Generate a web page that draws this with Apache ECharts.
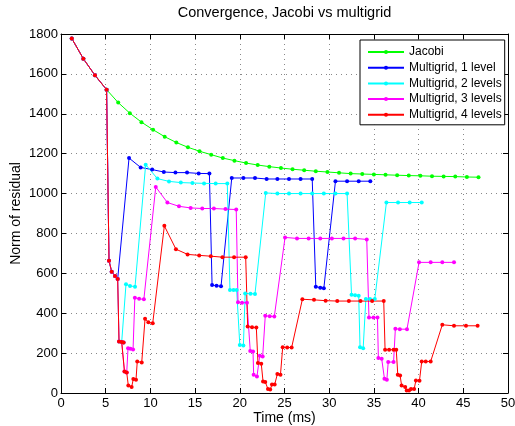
<!DOCTYPE html>
<html><head><meta charset="utf-8">
<script src="https://cdn.jsdelivr.net/npm/echarts@6/dist/echarts.min.js"></script>
<style>html,body{margin:0;padding:0;background:#fff}#c{width:515px;height:426px}</style>
</head><body><div id="c"></div>
<script>
// ---- data ----
const seriesNames = ['Jacobi', 'Multigrid, 1 level', 'Multigrid, 2 levels', 'Multigrid, 3 levels', 'Multigrid, 4 levels'];

const jacobiTime = [1.2, 2.5, 3.8, 5.1, 6.4, 7.7, 9.0, 10.3, 11.6, 12.9, 14.2, 15.5, 16.8, 18.1, 19.4, 20.7, 22.0, 23.3, 24.6, 25.9, 27.2, 28.5, 29.8, 31.1, 32.4, 33.7, 35.0, 36.3, 37.6, 38.9, 40.2, 41.5, 42.8, 44.1, 45.4, 46.7];
const jacobiRes = [1778, 1676, 1593, 1521, 1456, 1403, 1358, 1320, 1285, 1256, 1232, 1212, 1195, 1178, 1165, 1153, 1143, 1135, 1128, 1122, 1117, 1112, 1108, 1104, 1100, 1098, 1096, 1094, 1092, 1090, 1089, 1087, 1086, 1085, 1083, 1082];

const mg1Time = [1.2, 2.5, 3.8, 5.1, 5.37, 5.67, 6.04, 6.34, 7.61, 8.91, 10.2, 11.5, 12.8, 14.1, 15.4, 16.6, 16.9, 17.4, 17.9, 19.1, 20.4, 21.7, 23.0, 24.2, 25.5, 26.8, 28.1, 28.5, 29.0, 29.4, 30.7, 32.0, 33.3, 34.6];
const mg1Res = [1778, 1676, 1593, 1521, 663, 608, 587, 572, 1178, 1131, 1120, 1108, 1105, 1105, 1101, 1100, 541, 538, 535, 1078, 1078, 1078, 1073, 1073, 1073, 1073, 1073, 533, 528, 525, 1062, 1062, 1062, 1062];

const mg2Time = [1.2, 2.5, 3.8, 5.1, 5.37, 5.67, 6.04, 6.34, 6.49, 6.79, 7.0, 7.27, 7.72, 8.28, 9.47, 10.78, 12.08, 13.4, 14.7, 16.0, 17.3, 18.6, 18.9, 19.3, 19.65, 20.0, 20.4, 20.6, 21.2, 21.7, 22.9, 24.2, 25.5, 26.8, 28.1, 29.4, 30.7, 32.0, 32.5, 32.9, 33.3, 33.45, 33.8, 34.1, 34.56, 35.1, 36.4, 37.7, 39.0, 40.35];
const mg2Res = [1778, 1676, 1593, 1521, 663, 608, 587, 572, 258, 256, 253, 545, 537, 533, 1145, 1075, 1061, 1055, 1053, 1051, 1050, 1050, 517, 517, 517, 241, 238, 499, 498, 497, 1003, 1000, 1000, 1000, 1000, 1000, 1000, 1000, 492, 490, 487, 230, 225, 471, 471, 471, 955, 955, 955, 955];

const mg3Time = [1.2, 2.5, 3.8, 5.1, 5.37, 5.67, 6.04, 6.34, 6.49, 6.79, 7.0, 7.1, 7.35, 7.5, 7.77, 8.06, 8.26, 8.74, 9.27, 10.6, 11.9, 13.2, 14.5, 15.8, 17.1, 18.4, 19.6, 19.8, 20.25, 20.8, 21.17, 21.48, 21.55, 21.92, 22.23, 22.56, 22.85, 23.35, 23.86, 25.06, 26.4, 27.7, 29.0, 30.3, 31.6, 32.9, 34.2, 34.45, 34.95, 35.4, 35.5, 35.87, 36.18, 36.45, 36.6, 37.2, 37.4, 37.9, 38.7, 40.05, 41.35, 42.65, 43.96];
const mg3Res = [1778, 1676, 1593, 1521, 663, 608, 587, 572, 258, 256, 253, 108, 103, 225, 222, 218, 478, 472, 470, 1033, 955, 936, 928, 925, 925, 922, 920, 455, 453, 453, 211, 208, 92, 83, 187, 183, 387, 385, 383, 780, 775, 775, 775, 775, 775, 775, 770, 378, 378, 378, 175, 172, 72, 67, 155, 155, 322, 320, 320, 655, 655, 655, 655];

const mg4Time = [1.2, 2.5, 3.8, 5.1, 5.37, 5.67, 6.04, 6.34, 6.49, 6.79, 7.0, 7.1, 7.35, 7.53, 7.9, 8.09, 8.39, 8.53, 9.03, 9.4, 9.77, 10.26, 11.56, 12.86, 14.16, 15.46, 16.76, 18.06, 19.36, 20.66, 20.88, 21.37, 21.85, 22.03, 22.4, 22.6, 22.85, 23.15, 23.4, 23.6, 23.9, 24.2, 24.55, 24.8, 25.3, 25.8, 27.0, 28.3, 29.6, 30.9, 32.2, 33.5, 34.8, 36.1, 36.25, 36.7, 37.2, 37.5, 37.67, 37.93, 38.1, 38.5, 38.67, 38.93, 39.15, 39.5, 39.7, 40.1, 40.35, 40.8, 41.35, 42.65, 43.96, 45.3, 46.6];
const mg4Res = [1778, 1676, 1593, 1521, 663, 608, 587, 572, 258, 256, 253, 108, 103, 37, 30, 70, 67, 158, 153, 372, 355, 350, 838, 721, 695, 690, 686, 681, 681, 681, 333, 330, 328, 150, 147, 58, 55, 20, 17, 42, 42, 95, 92, 230, 228, 228, 470, 467, 463, 461, 461, 461, 461, 461, 217, 217, 217, 217, 92, 88, 37, 30, 13, 12, 20, 20, 63, 62, 158, 158, 158, 342, 337, 337, 337];

const colors = ['#00ff00', '#0000ff', '#00ffff', '#ff00ff', '#ff0000'];

// ---- chart ----
const font = '"Liberation Sans", Arial, Helvetica, sans-serif';
function pairs(t, r) { return t.map((v, i) => [v, r[i]]); }
function mk(idx, t, r) {
  const c = colors[idx];
  return {
    name: seriesNames[idx], type: 'line', data: pairs(t, r),
    symbol: 'circle', symbolSize: 4, showSymbol: true,
    lineStyle: { width: 1, color: c }, itemStyle: { color: c, borderWidth: 0 },
    emphasis: { disabled: true }, animation: false, clip: true
  };
}
const axisCommon = {
  nameMoveOverlap: false,
  axisLine: { show: true, onZero: false, lineStyle: { color: '#000', width: 1 } },
  axisTick: { show: true, inside: true, length: 5, lineStyle: { color: '#000', width: 1 } }
};
const grid = { color: '#888', type: [1, 4], width: 1 };
const plain = v => String(v);
const chart = echarts.init(document.getElementById('c'), null, { renderer: 'canvas' });
chart.setOption({
  backgroundColor: '#fff',
  animation: false,
  textStyle: { fontFamily: font },
  grid: { left: 61, right: 7, top: 34, bottom: 33, containLabel: false, outerBoundsMode: 'none' },
  xAxis: [
    Object.assign({
      type: 'value', min: 0, max: 50, interval: 5, position: 'bottom',
      name: 'Time (ms)', nameLocation: 'middle', nameGap: 18,
      nameTextStyle: { fontSize: 14, color: '#000', fontFamily: font },
      axisLabel: { fontSize: 13, color: '#000', margin: 4, fontFamily: font, formatter: plain },
      splitLine: { show: true, lineStyle: grid }
    }, axisCommon),
    Object.assign({
      type: 'value', min: 0, max: 50, interval: 5, position: 'top',
      name: 'Convergence, Jacobi vs multigrid', nameLocation: 'middle', nameGap: 14,
      nameTextStyle: { fontSize: 14.5, color: '#000', fontFamily: font },
      axisLabel: { show: false }, splitLine: { show: false }
    }, axisCommon)
  ],
  yAxis: [
    Object.assign({
      type: 'value', min: 0, max: 1800, interval: 200, position: 'left',
      name: 'Norm of residual', nameLocation: 'middle', nameGap: 38, nameRotate: 90,
      nameTextStyle: { fontSize: 14, color: '#000', fontFamily: font },
      axisLabel: { fontSize: 13, color: '#000', margin: 3, fontFamily: font, formatter: plain },
      splitLine: { show: true, lineStyle: grid }
    }, axisCommon),
    Object.assign({
      type: 'value', min: 0, max: 1800, interval: 200, position: 'right',
      axisLabel: { show: false }, splitLine: { show: false }
    }, axisCommon)
  ],
  legend: {
    data: seriesNames, orient: 'vertical', left: 360, top: 40,
    backgroundColor: '#fff', borderColor: '#000', borderWidth: 1, borderRadius: 0,
    padding: [5, 3, 3, 7], itemWidth: 36, itemHeight: 5, itemGap: 1.7,
    textStyle: { fontSize: 12, color: '#000', lineHeight: 14, fontFamily: font },
    selectedMode: false
  },
  series: [
    mk(0, jacobiTime, jacobiRes),
    mk(1, mg1Time, mg1Res),
    mk(2, mg2Time, mg2Res),
    mk(3, mg3Time, mg3Res),
    mk(4, mg4Time, mg4Res)
  ]
});
</script></body></html>
